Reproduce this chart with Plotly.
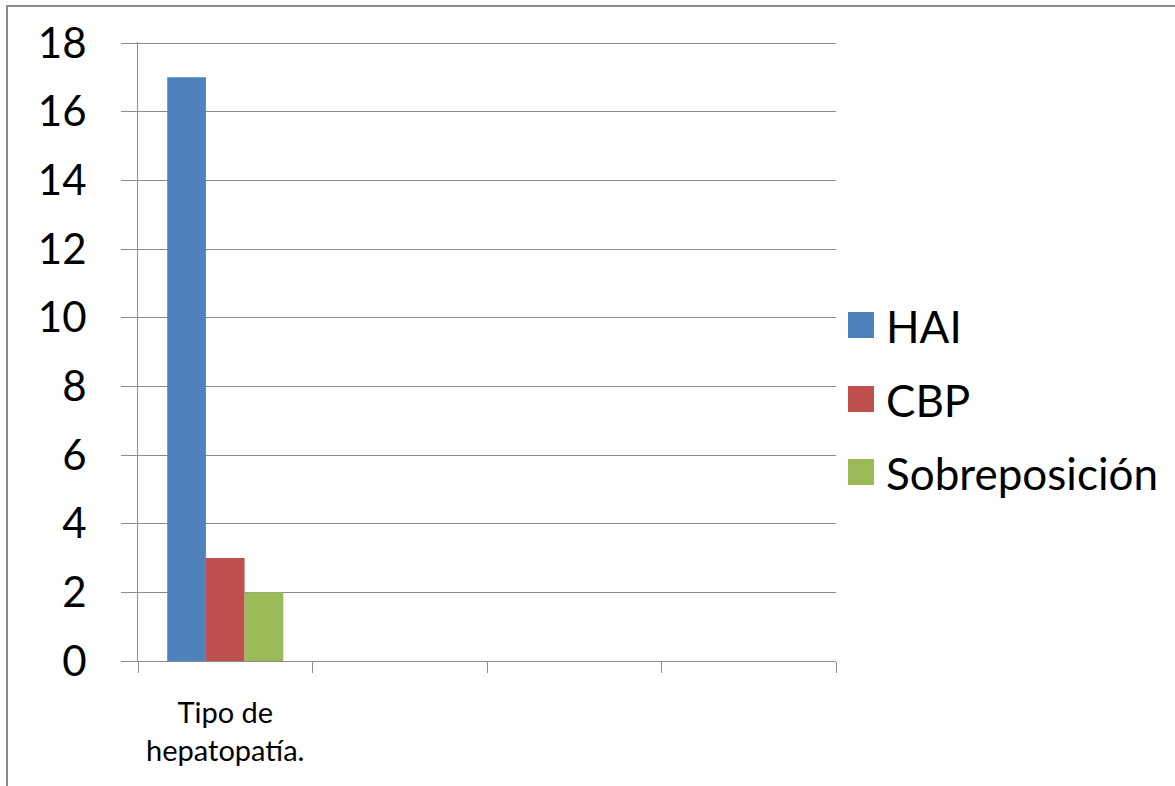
import plotly.graph_objects as go

# ---- data ----
series_names = ["HAI", "CBP", "Sobreposición"]
series_values = [17, 3, 2]
series_colors = ["#4F81BD", "#C0504D", "#9BBB59"]
category_label = "Tipo de<br>hepatopatía."
y_ticks = [0, 2, 4, 6, 8, 10, 12, 14, 16, 18]

FONT = "Lato"
GRID = "#8C8C8C"

W, H = 1175, 786
L, T = 138, 42
R = 1175 - 836
B = 786 - 661
pw, ph = W - L - R, H - T - B

def px_x(x):
    return (x - L) / pw

def px_y(y):
    return 1 - (y - T) / ph

fig = go.Figure()
for name, val, col in zip(series_names, series_values, series_colors):
    fig.add_trace(go.Bar(x=[1], y=[val], name=name, marker_color=col,
                         marker_line_width=0, showlegend=False))

# manual legend (large squares like the original)
leg_y = [325, 399, 472]
for name, col, yy in zip(series_names, series_colors, leg_y):
    fig.add_shape(type="rect", xref="paper", yref="paper",
                  x0=px_x(848), x1=px_x(874), y0=px_y(yy + 13), y1=px_y(yy - 13),
                  fillcolor=col, line_width=0)
    fig.add_annotation(text=name, xref="paper", yref="paper",
                       x=px_x(884), y=px_y(yy + 1), xanchor="left", yanchor="middle",
                       showarrow=False, font=dict(family=FONT, size=44, color="#000"))

# outer border
fig.add_shape(type="rect", xref="paper", yref="paper",
              x0=px_x(7), x1=px_x(1200), y0=px_y(800), y1=px_y(6),
              line=dict(color="#8A8A8A", width=2), fillcolor="rgba(0,0,0,0)")

fig.update_layout(
    width=W, height=H,
    margin=dict(l=L, r=R, t=T, b=B, pad=0),
    paper_bgcolor="white", plot_bgcolor="white",
    barmode="group", bargap=0.335, bargroupgap=0,
    showlegend=False,
    font=dict(family=FONT, color="#000"),
)
fig.update_xaxes(
    range=[0.5, 4.5], tickmode="array", tickvals=[1], ticktext=[category_label],
    ticks="", showgrid=False, showline=True, linecolor=GRID, linewidth=1,
    tickfont=dict(family=FONT, size=29, color="#000"),
    ticklabelstandoff=26,
    minor=dict(tickmode="array", tickvals=[0.5, 1.5, 2.5, 3.5, 4.5],
               ticks="outside", ticklen=11, tickcolor=GRID, tickwidth=1, showgrid=False),
    zeroline=False, fixedrange=True,
)
fig.update_yaxes(
    range=[0, 18.03], tickmode="array", tickvals=y_ticks,
    ticks="outside", ticklen=16, tickcolor=GRID, tickwidth=1,
    showgrid=True, gridcolor=GRID, gridwidth=1,
    showline=True, linecolor=GRID, linewidth=1,
    tickfont=dict(family=FONT, size=42, color="#000"),
    ticklabelstandoff=26, zeroline=False, fixedrange=True,
)

fig.write_html("out.html",
               config={"displayModeBar": False},
               post_script="document.body.style.margin='0';document.body.style.padding='0';")
